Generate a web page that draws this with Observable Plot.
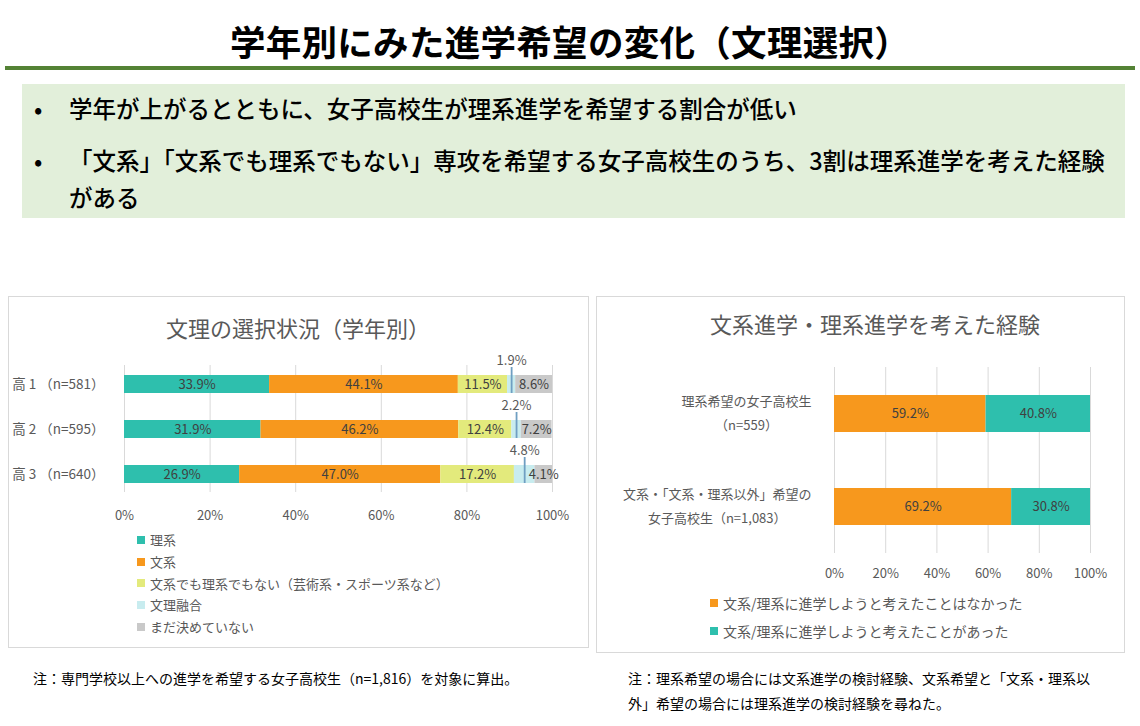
<!DOCTYPE html>
<html lang="ja">
<head>
<meta charset="utf-8">
<script src="https://cdn.jsdelivr.net/npm/d3@7"></script>
<script src="https://cdn.jsdelivr.net/npm/@observablehq/plot@0.6"></script>
<style>
  html, body { margin: 0; padding: 0; }
  body { width: 1140px; height: 726px; position: relative; overflow: hidden; background: #fff;
         font-family: "Noto Sans CJK JP", "Noto Sans", sans-serif; color: #000; }
  .abs { position: absolute; }
  #title { top: 16px; left: 0; width: 1140px; text-align: center; font-size: 35.5px; font-weight: 700; line-height: 50px; letter-spacing: 0.3px; }
  #rule { top: 66px; left: 5px; width: 1130px; height: 4px; background: #548235; }
  #box { top: 84px; left: 22px; width: 1103px; height: 134px; background: #e2efda; }
  .bullet { left: 0; font-size: 23.5px; font-weight: 500; line-height: 37px; }
  .bullet .dot { position: absolute; left: 12px; }
  .bullet .txt { position: absolute; left: 47px; white-space: nowrap; }
  .panel { border: 1px solid #d9d9d9; background: #fff; }
  .ptitle { text-align: center; font-size: 22px; color: #595959; line-height: 30px; white-space: nowrap; }
  .legend { font-size: 13px; color: #595959; }
  .legend .item { display: flex; align-items: center; white-space: nowrap; }
  .legend .sw { width: 8px; height: 8px; margin-right: 5px; flex: none; }
  .note { font-size: 14px; color: #000; white-space: nowrap; }
  svg { overflow: visible; }
</style>
</head>
<body>
<div id="title" class="abs">学年別にみた進学希望の変化（文理選択）</div>
<div id="rule" class="abs"></div>
<div id="box" class="abs">
  <div class="abs bullet" style="top:5.5px;"><span class="dot">•</span><span class="txt">学年が上がるとともに、女子高校生が理系進学を希望する割合が低い</span></div>
  <div class="abs bullet" style="top:57.5px;"><span class="dot">•</span><span class="txt">「文系」「文系でも理系でもない」専攻を希望する女子高校生のうち、3割は理系進学を考えた経験<br>がある</span></div>
</div>

<div class="abs panel" style="left:8px; top:296px; width:579px; height:350px;"></div>
<div class="abs panel" style="left:596px; top:296px; width:527px; height:355px;"></div>

<div class="abs ptitle" style="left:8px; top:312px; width:580px;">文理の選択状況（学年別）</div>
<div class="abs ptitle" style="left:630px; top:308px; width:490px;">文系進学・理系進学を考えた経験</div>

<div id="chart1" class="abs" style="left:8px; top:335px;"></div>
<div id="chart2" class="abs" style="left:600px; top:340px;"></div>

<div id="legend1" class="abs legend" style="left:137px; top:529px;"></div>
<div id="legend2" class="abs legend" style="left:710px; top:589px; font-size:14px;"></div>

<div class="abs note" style="left:33px; top:668px; line-height:20px;">注：専門学校以上への進学を希望する女子高校生（n=1,816）を対象に算出。</div>
<div class="abs note" style="left:628px; top:666px; line-height:25px;">注：理系希望の場合には文系進学の検討経験、文系希望と「文系・理系以<br>外」希望の場合には理系進学の検討経験を尋ねた。</div>

<script>
// ---- Data: left chart (文理の選択状況・学年別) ----
const gradeLabels = ["高 1 （n=581）", "高 2 （n=595）", "高 3 （n=640）"];
const choiceSeries = ["理系", "文系", "文系でも理系でもない（芸術系・スポーツ系など）", "文理融合", "まだ決めていない"];
const rikei = [33.9, 31.9, 26.9];
const bunkei = [44.1, 46.2, 47.0];
const neither = [11.5, 12.4, 17.2];
const fusion = [1.9, 2.2, 4.8];
const undecided = [8.6, 7.2, 4.1];
const choiceColors = ["#2ebfad", "#f7981d", "#e3ea7c", "#c8ecef", "#c9c9c9"];
const xTicks = [0, 20, 40, 60, 80, 100];

// ---- Data: right chart (文系進学・理系進学を考えた経験) ----
const groupLabels = ["理系希望の女子高校生\n（n=559）", "文系・「文系・理系以外」希望の\n女子高校生（n=1,083）"];
const expSeries = ["文系/理系に進学しようと考えたことはなかった", "文系/理系に進学しようと考えたことがあった"];
const neverConsidered = [59.2, 69.2];
const considered = [40.8, 30.8];
const expColors = ["#f7981d", "#2ebfad"];

const choiceArrays = [rikei, bunkei, neither, fusion, undecided];
const choiceRows = gradeLabels.flatMap((g, i) =>
  choiceArrays.map((arr, j) => ({grade: g, series: choiceSeries[j], value: arr[i]})));

const expArrays = [neverConsidered, considered];
const expRows = groupLabels.flatMap((g, i) =>
  expArrays.map((arr, j) => ({group: g, series: expSeries[j], value: arr[i]})));

const pct = d => d.toFixed(1) + "%";
const FUSION = "文理融合";

const chart1 = Plot.plot({
  width: 580, height: 190,
  marginLeft: 116, marginRight: 36, marginTop: 30, marginBottom: 33,
  style: {fontFamily: "'Noto Sans CJK JP', sans-serif", fontSize: "13px", color: "#595959", background: "transparent", overflow: "visible"},
  x: {domain: [0, 100], label: null},
  y: {domain: gradeLabels, paddingInner: 0.6, paddingOuter: 0.2, label: null},
  color: {domain: choiceSeries, range: choiceColors},
  marks: [
    Plot.gridX(xTicks, {stroke: "#d9d9d9", strokeOpacity: 1}),
    Plot.axisX(xTicks, {tickSize: 0, tickPadding: 18, tickFormat: d => d + "%", fill: "#595959", fontSize: 13}),
    Plot.axisY({tickSize: 0, tickPadding: 20, fill: "#595959", fontSize: 13.5}),
    Plot.barX(choiceRows, {x: "value", y: "grade", fill: "series"}),
    Plot.tickX(choiceRows, Plot.stackX({x: "value", y: "grade", stroke: "#6f9fc2", strokeWidth: 1.8,
      strokeOpacity: d => d.series === FUSION ? 1 : 0, insetTop: -8})),
    Plot.text(choiceRows, Plot.stackX({x: "value", y: "grade",
      text: d => d.series === FUSION ? null : pct(d.value), fill: "#404040", fontSize: 13})),
    Plot.text(choiceRows, Plot.stackX({x: "value", y: "grade",
      text: d => d.series === FUSION ? pct(d.value) : null, dy: -24, fill: "#595959", fontSize: 13}))
  ]
});
document.getElementById("chart1").append(chart1);

const chart2 = Plot.plot({
  width: 524, height: 247,
  marginLeft: 234, marginRight: 34, marginTop: 27, marginBottom: 34,
  style: {fontFamily: "'Noto Sans CJK JP', sans-serif", fontSize: "13px", color: "#595959", background: "transparent", overflow: "visible"},
  x: {domain: [0, 100], label: null},
  y: {domain: groupLabels, paddingInner: 0.6, paddingOuter: 0.3, label: null},
  color: {domain: expSeries, range: expColors},
  marks: [
    Plot.gridX(xTicks, {stroke: "#d9d9d9", strokeOpacity: 1}),
    Plot.axisX(xTicks, {tickSize: 0, tickPadding: 15, tickFormat: d => d + "%", fill: "#595959", fontSize: 13}),
    Plot.axisY({tickSize: 0, tickPadding: 23, fill: "#595959", fontSize: 13, lineHeight: 1.9, dy: -4}),
    Plot.barX(expRows, {x: "value", y: "group", fill: "series"}),
    Plot.text(expRows, Plot.stackX({x: "value", y: "group", text: d => pct(d.value), fill: "#404040", fontSize: 13}))
  ]
});
document.getElementById("chart2").append(chart2);

// centre each multi-line group label on its own block (as in the original)
chart2.querySelectorAll('g[aria-label="y-axis tick label"] text').forEach(t => {
  const w = t.getBBox().width;
  t.setAttribute("text-anchor", "middle");
  const tr = t.getAttribute("transform") || "";
  t.setAttribute("transform", tr + ` translate(${-w / 2},0)`);
});

// legends
function legend(el, names, colors, rowH) {
  names.forEach((n, i) => {
    const item = document.createElement("div");
    item.className = "item";
    item.style.height = rowH + "px";
    const sw = document.createElement("span");
    sw.className = "sw";
    sw.style.background = colors[i];
    const tx = document.createElement("span");
    tx.textContent = n;
    item.append(sw, tx);
    el.append(item);
  });
}
legend(document.getElementById("legend1"), choiceSeries, choiceColors, 21.7);
legend(document.getElementById("legend2"), expSeries, expColors, 28);
</script>
</body>
</html>
